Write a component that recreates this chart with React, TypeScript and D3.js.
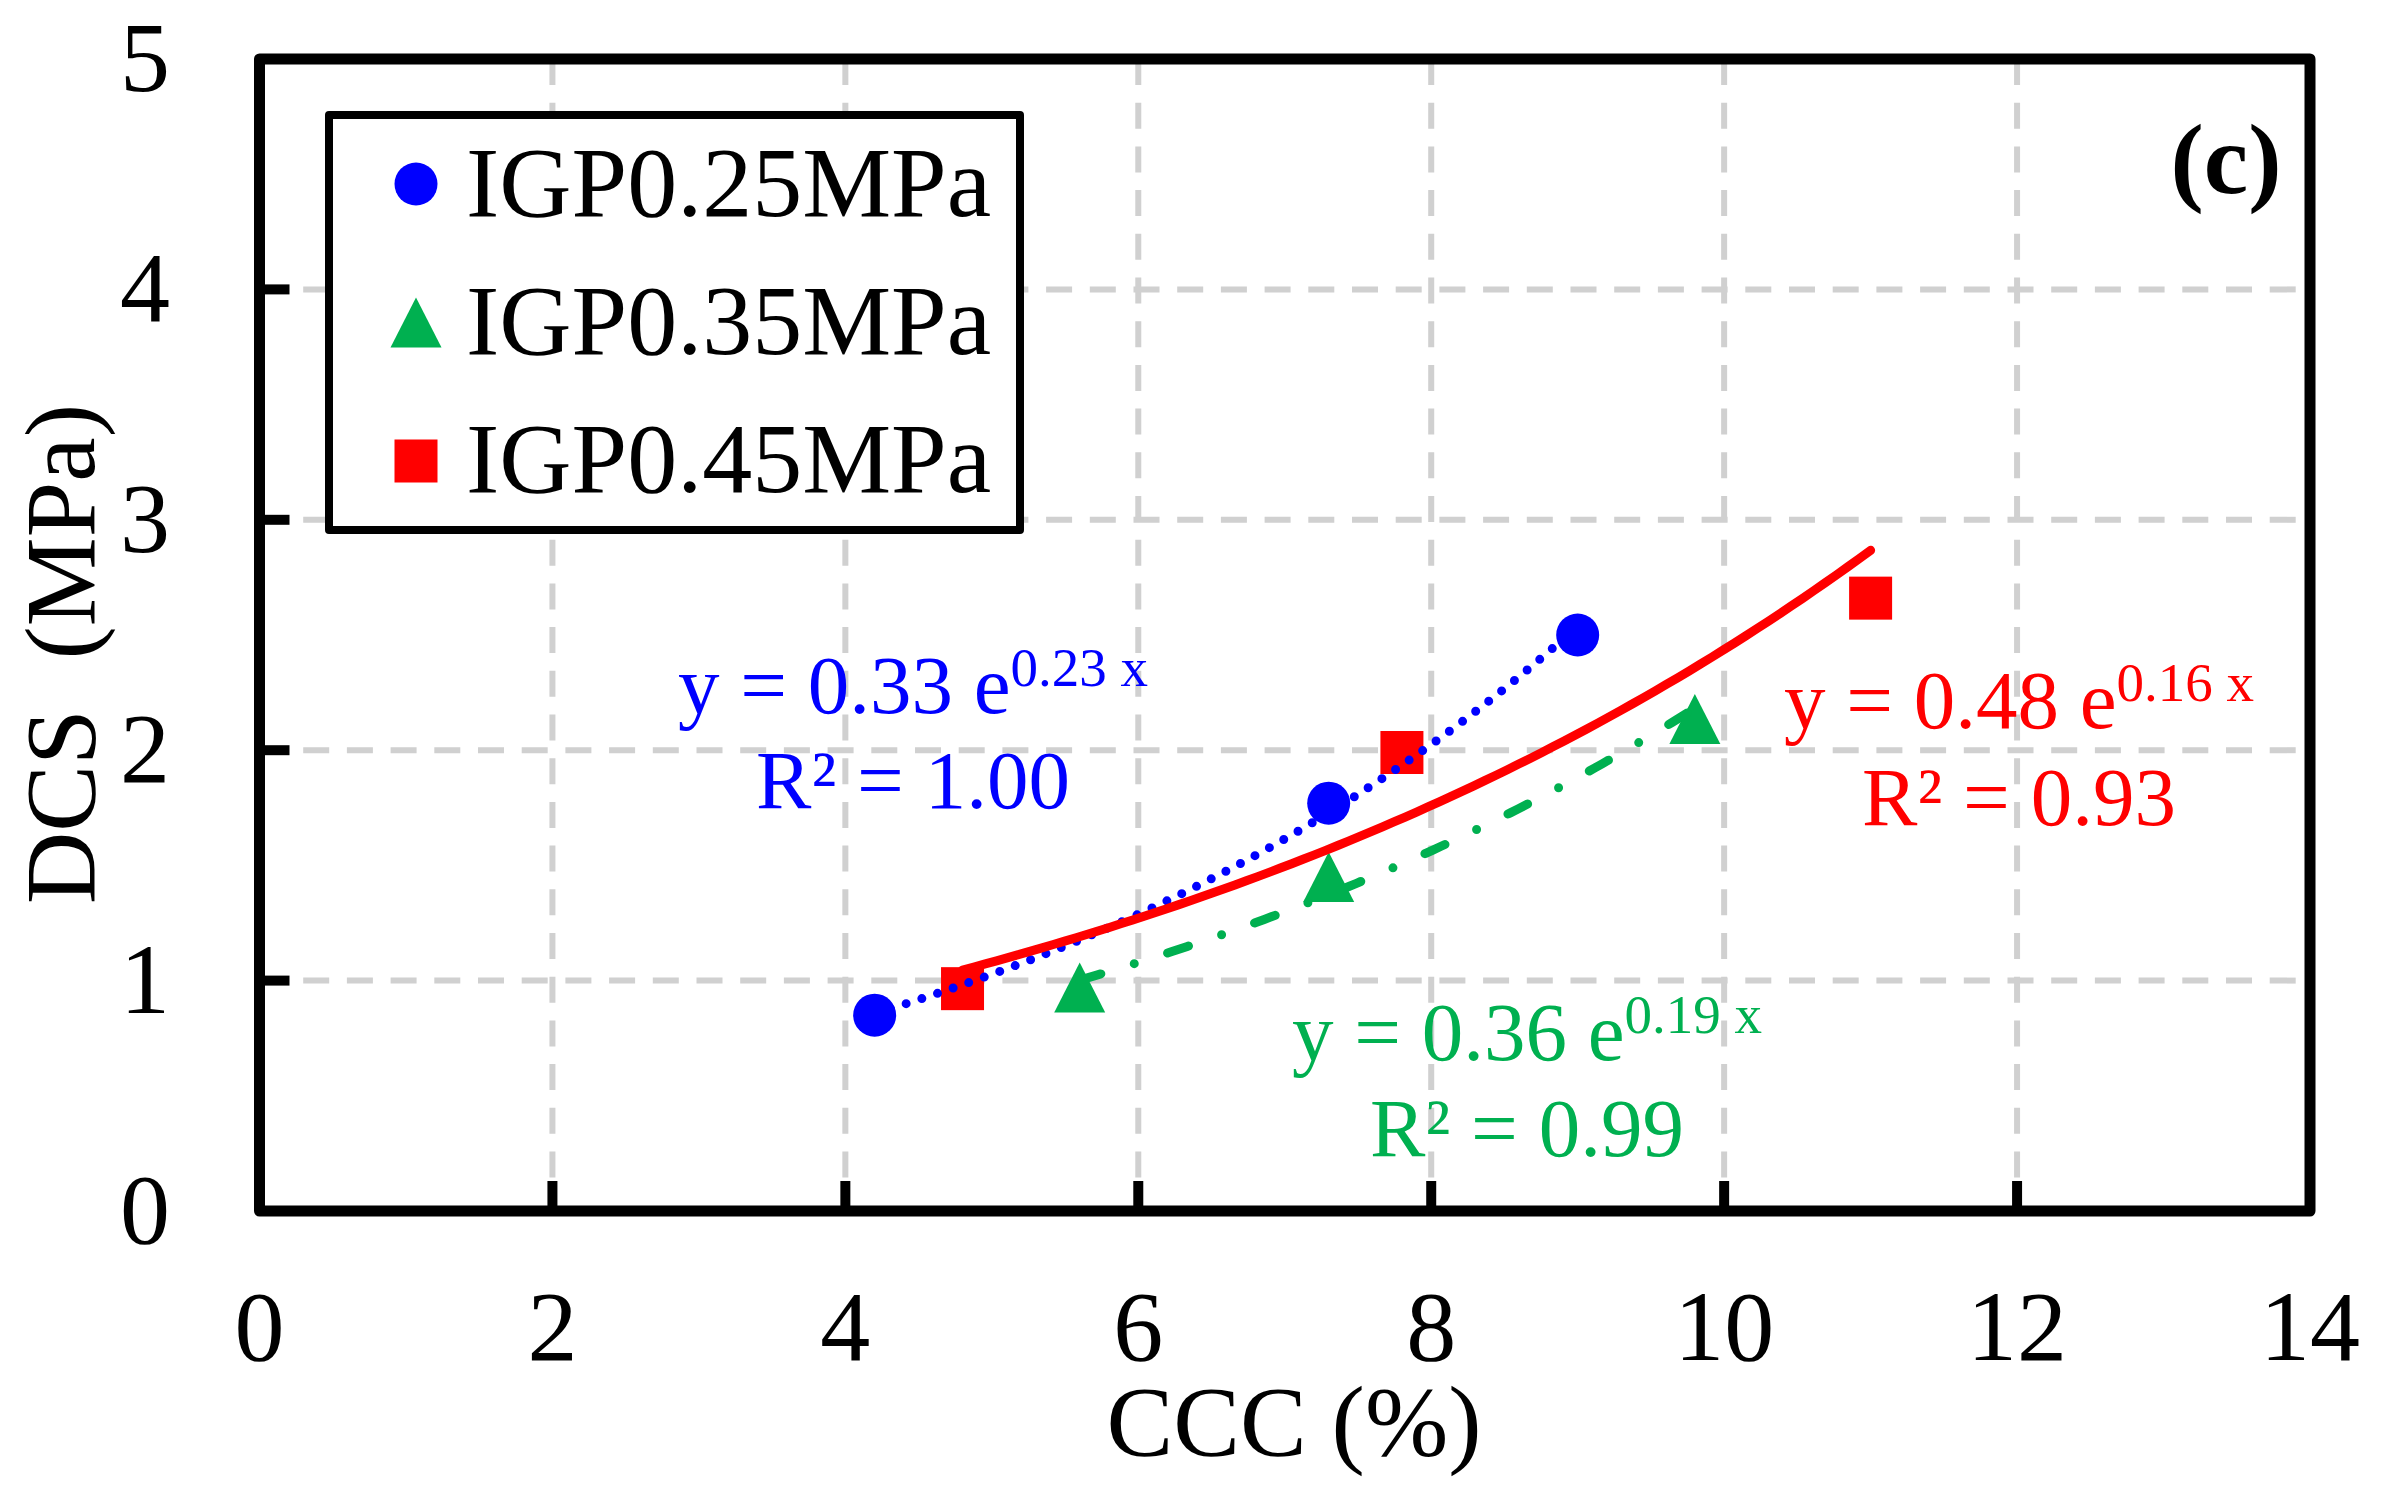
import * as d3 from 'd3';

// axis ticks
const xTicks = [0, 2, 4, 6, 8, 10, 12, 14];
const yTicks = [0, 1, 2, 3, 4, 5];

// series (CCC %, DCS MPa)
const seriesNames = ['IGP0.25MPa', 'IGP0.35MPa', 'IGP0.45MPa'];
const ccc025 = [4.2, 7.3, 9.0];
const dcs025 = [0.85, 1.77, 2.5];
const ccc035 = [5.6, 7.3, 9.8];
const dcs035 = [0.97, 1.45, 2.135];
const ccc045 = [4.8, 7.8, 11.0];
const dcs045 = [0.965, 1.99, 2.66];

// trendline labels
const eqMain = ['y = 0.33 e', 'y = 0.36 e', 'y = 0.48 e'];
const eqExp = ['0.23 x', '0.19 x', '0.16 x'];
const eqR2 = ['R² = 1.00', 'R² = 0.99', 'R² = 0.93'];

const W = 2384;
const H = 1496;
const FONT = '"Liberation Serif", "Times New Roman", serif';

// exponential trendline, least squares on ln(y) like Excel does
function expFit(xs: number[], ys: number[]) {
  const ly = ys.map(Math.log);
  const mx = d3.mean(xs)!;
  const my = d3.mean(ly)!;
  const sxy = d3.sum(xs, (x, i) => (x - mx) * (ly[i] - my));
  const sxx = d3.sum(xs, x => (x - mx) * (x - mx));
  const b = sxy / sxx;
  const a = Math.exp(my - b * mx);
  return { a, b };
}

export default function App() {
  const x = d3.scaleLinear().domain([0, 14]).range([259.5, 2310]);
  const y = d3.scaleLinear().domain([0, 5]).range([1211, 59]);

  const series = [
    { name: seriesNames[0], xs: ccc025, ys: dcs025, color: '#0000FF', marker: 'circle', dash: '0 16.5' },
    { name: seriesNames[1], xs: ccc035, ys: dcs035, color: '#00B050', marker: 'triangle', dash: '22 35 0 35' },
    { name: seriesNames[2], xs: ccc045, ys: dcs045, color: '#FF0000', marker: 'square', dash: undefined },
  ];

  // where each equation sits: [centre x, baseline of first line, baseline of second line]
  const labelPos = [
    [913, 713, 808],
    [1527, 1060, 1156],
    [2019, 728, 825],
  ];

  const line = d3.line<[number, number]>().x(d => x(d[0])).y(d => y(d[1]));

  const marker = (kind: string, cx: number, cy: number, color: string, key?: string) => {
    if (kind === 'circle') return <circle key={key} cx={cx} cy={cy} r={21.5} fill={color} />;
    if (kind === 'square') return <rect key={key} x={cx - 21.5} y={cy - 21.5} width={43} height={43} fill={color} />;
    return <path key={key} d={`M${cx},${cy - 25}L${cx + 25.5},${cy + 25}L${cx - 25.5},${cy + 25}Z`} fill={color} />;
  };

  const left = x(0), right = x(14), top = y(5), bottom = y(0);

  return (
    <svg width={W} height={H} style={{ position: 'absolute', left: 0, top: 0, background: '#fff' }} fontFamily={FONT}>
      <rect x={0} y={0} width={W} height={H} fill="#fff" />

      {/* grid */}
      <g stroke="#D0D0D0" strokeWidth={6} strokeDasharray="26 17.7">
        {xTicks.filter(t => t > 0 && t < 14).map(t => (
          <line key={'gx' + t} x1={x(t)} x2={x(t)} y1={top} y2={bottom} />
        ))}
        {yTicks.filter(t => t > 0 && t < 5).map(t => (
          <line key={'gy' + t} x1={left} x2={right} y1={y(t)} y2={y(t)} />
        ))}
      </g>

      {/* ticks, inward */}
      <g stroke="#000" strokeWidth={10}>
        {xTicks.filter(t => t > 0 && t < 14).map(t => (
          <line key={'tx' + t} x1={x(t)} x2={x(t)} y1={bottom} y2={bottom - 30} />
        ))}
        {yTicks.filter(t => t > 0 && t < 5).map(t => (
          <line key={'ty' + t} x1={left} x2={left + 30} y1={y(t)} y2={y(t)} />
        ))}
      </g>

      {/* frame */}
      <rect x={left} y={top} width={right - left} height={bottom - top} fill="none" stroke="#000" strokeWidth={11} strokeLinejoin="round" />

      {/* tick labels */}
      <g fontSize={100} fill="#000">
        {xTicks.map(t => (
          <text key={'lx' + t} x={x(t)} y={1360} textAnchor="middle">{t}</text>
        ))}
        {yTicks.map(t => (
          <text key={'ly' + t} x={170} y={y(t) + 32} textAnchor="end">{t}</text>
        ))}
      </g>

      {/* axis titles */}
      <text x={1294} y={1455} fontSize={100} textAnchor="middle">CCC (%)</text>
      <text transform="translate(94,654) rotate(-90)" fontSize={100} textAnchor="middle" style={{ whiteSpace: 'pre' }}>{'DCS  (MPa)'}</text>

      {/* markers */}
      {series.map(s => (
        <g key={'m' + s.name}>
          {s.xs.map((v, i) => marker(s.marker, x(v), y(s.ys[i]), s.color, s.name + i))}
        </g>
      ))}

      {/* trendlines */}
      {series.map(s => {
        const { a, b } = expFit(s.xs, s.ys);
        const x0 = d3.min(s.xs)!, x1 = d3.max(s.xs)!;
        const pts: [number, number][] = d3.range(81).map(i => {
          const xv = x0 + ((x1 - x0) * i) / 80;
          return [xv, a * Math.exp(b * xv)];
        });
        return (
          <path key={'t' + s.name} d={line(pts) || ''} fill="none" stroke={s.color} strokeWidth={9}
            strokeDasharray={s.dash} strokeLinecap="round" strokeLinejoin="round" />
        );
      })}

      {/* equations */}
      {series.map((s, i) => (
        <g key={'eq' + s.name} fill={s.color} fontSize={83} textAnchor="middle">
          <text x={labelPos[i][0]} y={labelPos[i][1]}>
            <tspan>{eqMain[i]}</tspan>
            <tspan fontSize={55} dy={-27}>{eqExp[i]}</tspan>
          </text>
          <text x={labelPos[i][0]} y={labelPos[i][2]}>{eqR2[i]}</text>
        </g>
      ))}

      {/* panel tag */}
      <text x={2226} y={193} fontSize={100} fontWeight="bold" textAnchor="middle">(c)</text>

      {/* legend */}
      <rect x={329} y={115} width={691} height={415} fill="#fff" stroke="#000" strokeWidth={8} strokeLinejoin="round" />
      {series.map((s, i) => (
        <g key={'lg' + s.name}>
          {marker(s.marker, 416, 184 + i * 138.5, s.color)}
          <text x={466} y={216 + i * 138} fontSize={100}>{s.name}</text>
        </g>
      ))}
    </svg>
  );
}
